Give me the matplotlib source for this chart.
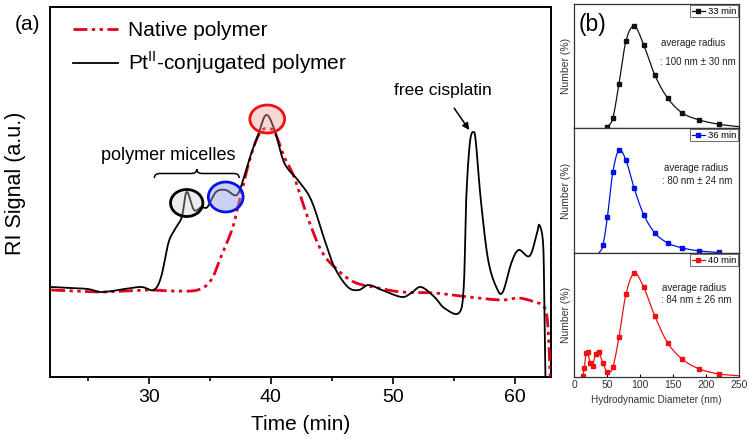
import numpy as np
import matplotlib
matplotlib.use("Agg")
import matplotlib.pyplot as plt
from matplotlib.patches import Ellipse, PathPatch
from matplotlib.path import Path
from matplotlib.ticker import MultipleLocator

plt.rcParams["font.family"] = ["Liberation Sans", "DejaVu Sans"]
plt.rcParams["mathtext.fontset"] = "custom"
plt.rcParams["mathtext.rm"] = "Liberation Sans"

# ---- (a) GPC traces: time (min) vs RI signal (a.u.)
t_pt = [22.0, 23.5, 25.0, 26.0, 27.0, 28.0, 29.4, 30.4, 31.0, 31.6, 32.1, 32.7,
        33.1, 33.7, 34.3, 34.8, 35.5, 36.3, 37.2, 37.8, 38.4, 38.9, 39.6, 40.3,
        41.1, 42.2, 43.3, 44.4, 45.2, 46.3, 47.2, 48.0, 49.1, 50.7, 51.5, 52.3,
        53.4, 54.2, 55.4, 55.8, 56.0, 56.3, 56.6, 56.8, 57.2, 57.8, 58.5, 59.0,
        59.7, 60.3, 61.2, 61.8, 62.0, 62.3, 62.4, 62.5]
ri_pt = [90, 89, 88, 85, 86, 88, 90, 87, 100, 134, 147, 160,
         185, 167, 170, 170, 185, 187, 182, 200, 224, 240, 262, 247,
         214, 197, 177, 137, 110, 90, 87, 92, 87, 80, 84, 90,
         80, 69, 64, 90, 177, 234, 245, 234, 177, 117, 89, 85,
         114, 127, 121, 144, 152, 134, 77, -5]

t_nat = [22.0, 24.0, 26.0, 28.0, 30.0, 32.0, 34.0, 35.1, 35.9, 36.8, 37.3, 38.1,
         38.8, 39.3, 39.7, 40.3, 41.1, 41.9, 43.0, 44.1, 45.2, 46.8, 48.8, 50.7,
         53.4, 56.2, 58.9, 60.3, 61.6, 62.4, 62.7, 62.9]
ri_nat = [87, 86, 85, 86, 87, 86, 87, 97, 120, 147, 170, 210,
          237, 247, 248, 245, 220, 200, 160, 127, 110, 95, 89, 85,
          84, 80, 77, 79, 75, 70, 50, -5]

# ---- (b) DLS number distributions
d_33 = [50.7, 58.8, 68.1, 78.8, 91.3, 105.7, 122.4, 141.8, 164.2, 190.1, 220.2, 255.0]
n_33 = [1.3, 9.7, 44, 87, 102, 83, 53, 30, 15, 8, 3.7, 1.0]

d_36 = [37.8, 43.8, 50.7, 58.8, 68.1, 78.8, 91.3, 105.7, 122.4, 141.8, 164.2, 190.1, 220.2]
n_36 = [0.0, 7.5, 36, 80, 102, 92, 64, 38, 20, 10, 5, 2, 0.5]

d_40 = [13.5, 15.7, 18.2, 21.0, 24.4, 28.2, 32.7, 37.8, 43.8, 50.7, 58.8, 68.1,
        78.8, 91.3, 105.7, 122.4, 141.8, 164.2, 190.1, 220.2, 255.0]
n_40 = [1.3, 8.7, 24.3, 24.7, 13.7, 11.3, 23, 24.7, 13.7, 4.7, 9.7, 39.7,
        83, 103.7, 89.7, 61, 34.3, 17.7, 8, 3, 1.0]

radius_text = [": 100 nm ± 30 nm", ": 80 nm ± 24 nm", ": 84 nm ± 26 nm"]
labels_b = ["33 min", "36 min", "40 min"]


def smooth(x, y, n=24):
    # Catmull-Rom through the points (like Origin's spline connection)
    x = np.asarray(x, float)
    y = np.asarray(y, float)
    px = np.r_[2 * x[0] - x[1], x, 2 * x[-1] - x[-2]]
    py = np.r_[2 * y[0] - y[1], y, 2 * y[-1] - y[-2]]
    s = np.linspace(0, 1, n, endpoint=False)
    ox, oy = [], []
    for i in range(1, len(px) - 2):
        for p, o in ((px, ox), (py, oy)):
            p0, p1, p2, p3 = p[i - 1], p[i], p[i + 1], p[i + 2]
            o.append(0.5 * (2 * p1 + (-p0 + p2) * s
                            + (2 * p0 - 5 * p1 + 4 * p2 - p3) * s ** 2
                            + (-p0 + 3 * p1 - 3 * p2 + p3) * s ** 3))
    return np.r_[np.concatenate(ox), x[-1]], np.r_[np.concatenate(oy), y[-1]]


W, H = 751, 446


def box(l, t, r, b):
    return [l / W, 1 - b / H, (r - l) / W, (b - t) / H]


fig = plt.figure(figsize=(W / 100, H / 100), dpi=100)

ax = fig.add_axes(box(50, 7, 551, 377))
xs, ys = smooth(t_nat, ri_nat, 12)
ax.plot(xs, ys, color="#e3001b", lw=2.0, dashes=(5, 1.6, 1.2, 1.6, 1.2, 1.6),
        label="Native polymer", zorder=3)
xs, ys = smooth(t_pt, ri_pt, 12)
ax.plot(xs, ys, color="black", lw=1.3, label="Pt$^{\\mathrm{II}}$-conjugated polymer", zorder=4)

ax.set_xlim(21.9, 62.95)
ax.set_ylim(0, 370)
ax.set_yticks([])
ax.xaxis.set_major_locator(MultipleLocator(10))
ax.xaxis.set_minor_locator(MultipleLocator(5))
ax.tick_params(axis="x", which="major", direction="out", length=5, width=1.2,
               labelsize=14, pad=4)
ax.tick_params(axis="x", which="minor", direction="out", length=3, width=1.2)
for sp in ax.spines.values():
    sp.set_linewidth(1.4)
ax.set_xlabel("Time (min)", fontsize=15, labelpad=6)
ax.set_ylabel("RI Signal (a.u.)", fontsize=15.5)
ax.yaxis.set_label_coords(-0.048, 0.524)

# highlighted peaks
i_m1 = int(np.argmax(np.where(np.array(t_pt) < 34, ri_pt, 0)))
i_m2 = int(np.argmax(np.where((np.array(t_pt) > 35) & (np.array(t_pt) < 37), ri_pt, 0)))
i_mn = int(np.argmax(ri_pt))
ax.add_patch(Ellipse((t_pt[i_m1], ri_pt[i_m1] - 11), 2.65, 27, fc=(0.8, 0.8, 0.8, 0.35),
                     ec="black", lw=2.0, zorder=5))
ax.add_patch(Ellipse((t_pt[i_m2], ri_pt[i_m2] - 7), 2.85, 30, fc=(0.55, 0.6, 0.9, 0.45),
                     ec="#0a14e6", lw=2.0, zorder=5))
ax.add_patch(Ellipse((t_pt[i_mn] + 0.1, ri_pt[i_mn] - 4), 2.85, 28, fc=(0.95, 0.6, 0.6, 0.4),
                     ec="#ee1111", lw=2.0, zorder=5))

# curly brace over the micelle peaks
x0, x1, yb, hb = 30.45, 37.4, 199, 9
xm = (x0 + x1) / 2
dq = 0.45
verts = [(x0, yb), (x0, yb + hb / 2), (x0 + dq, yb + hb / 2),
         (xm - dq, yb + hb / 2), (xm, yb + hb / 2), (xm, yb + hb),
         (xm, yb + hb / 2), (xm + dq, yb + hb / 2),
         (x1 - dq, yb + hb / 2), (x1, yb + hb / 2), (x1, yb)]
codes = [Path.MOVETO, Path.CURVE3, Path.CURVE3, Path.LINETO, Path.CURVE3, Path.CURVE3,
         Path.CURVE3, Path.CURVE3, Path.LINETO, Path.CURVE3, Path.CURVE3]
ax.add_patch(PathPatch(Path(verts, codes), fc="none", ec="black", lw=1.1))
ax.text(31.6, 222, "polymer micelles", fontsize=13, ha="center", va="center")

i_fc = int(np.argmax(np.where(np.array(t_pt) > 55, ri_pt, 0)))
ax.annotate("free cisplatin", xy=(t_pt[i_fc] - 0.35, ri_pt[i_fc] + 2), xytext=(54.05, 286),
            fontsize=12.5, ha="center", va="center",
            arrowprops=dict(arrowstyle="-|>", color="black", lw=1.1, mutation_scale=10,
                            shrinkA=6, shrinkB=0))

ax.legend(loc="upper left", bbox_to_anchor=(0.046, 0.962), frameon=False, fontsize=15,
          handlelength=2.15, handletextpad=0.5, labelspacing=0.45, borderpad=0,
          borderaxespad=0)

fig.text(28 / W, 1 - 25 / H, "(a)", fontsize=15, ha="center", va="center")

# ---- (b)
rows = [(4, 128), (128, 253), (253, 377)]
series = [(d_33, n_33, "#111111"), (d_36, n_36, "#0010e0"), (d_40, n_40, "#ee1111")]
line1_y = [0.685, 0.68, 0.718]
line2_y = [0.532, 0.576, 0.62]
text_x = [0.53, 0.545, 0.535]
for k, ((top, bot), (d, n, c)) in enumerate(zip(rows, series)):
    bx = fig.add_axes(box(574, top, 739, bot))
    xs, ys = smooth(d, n, 16)
    bx.plot(xs, ys, color=c, lw=0.9)
    first = 1 if n[0] == 0 else 0
    bx.plot(d[first:], n[first:], ls="none", marker="s", ms=3.2, color=c,
            mec=c, label=labels_b[k])
    bx.set_xlim(0, 250)
    bx.set_ylim(0, 124)
    bx.set_yticks([])
    for sp in bx.spines.values():
        sp.set_linewidth(0.9)
        sp.set_color("#333333")
    bx.set_ylabel("Number (%)", fontsize=7.5, color="#333333")
    bx.yaxis.set_label_coords(-0.02, 0.5)
    bx.text(text_x[k], line1_y[k], "average radius", transform=bx.transAxes,
            fontsize=7, color="#222222", va="center")
    bx.text(text_x[k] - 0.01, line2_y[k], radius_text[k], transform=bx.transAxes,
            fontsize=7, color="#222222", va="center")
    h, = bx.plot([], [], color=c, lw=0.9, marker="s", ms=3.2)
    leg = bx.legend([h], [labels_b[k]], loc="upper right", fontsize=6.8, frameon=True,
                    fancybox=False, edgecolor="#555555", framealpha=1,
                    handlelength=1.4, handletextpad=0.3, borderpad=0.15,
                    borderaxespad=0.15)
    leg.get_frame().set_linewidth(0.6)
    if k < 2:
        bx.tick_params(bottom=False, labelbottom=False)
    else:
        bx.xaxis.set_major_locator(MultipleLocator(50))
        bx.tick_params(axis="x", direction="in", length=2.5, width=0.8,
                       labelsize=7.5, labelcolor="#333333", pad=2)
        bx.set_xlabel("Hydrodynamic Diameter (nm)", fontsize=7.2, color="#333333",
                      labelpad=4)

fig.text(592 / W, 1 - 25 / H, "(b)", fontsize=16.5, ha="center", va="center")

fig.savefig("out.png", dpi=100)
